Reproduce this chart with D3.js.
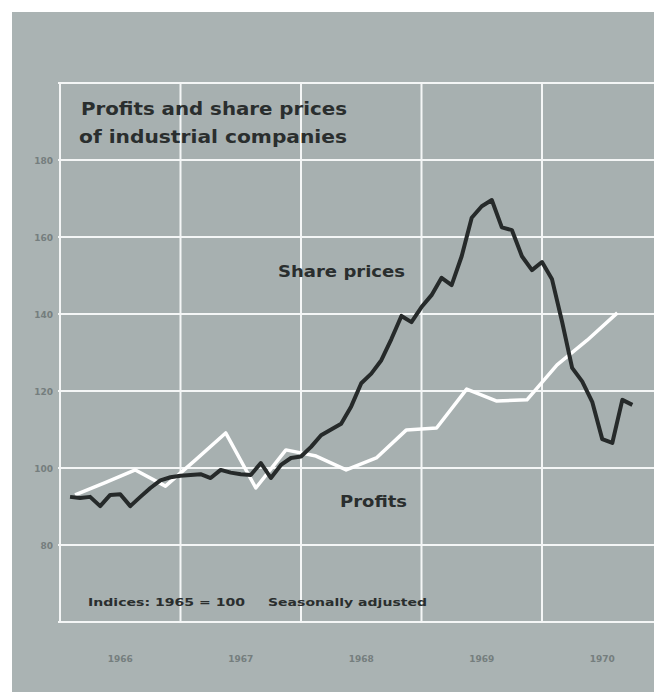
<!DOCTYPE html>
<html>
<head>
<meta charset="utf-8">
<script src="https://cdn.jsdelivr.net/npm/d3@7"></script>
<style>
  html, body { margin: 0; padding: 0; background: #ffffff; }
  svg { display: block; }
</style>
</head>
<body>
<svg id="chart" width="654" height="692"></svg>
<script>
// ---- Data ----
const yearLabels = ["1966", "1967", "1968", "1969", "1970"];
const yTickValues = [80, 100, 120, 140, 160, 180];
const shareStartYear = 1966; // monthly, Jan 1966 .. Sep 1970
const sharePrices = [
  92.5, 92.2, 92.5, 90.1, 93.0, 93.2, 90.1, 92.5, 94.8, 96.8, 97.6, 98.0,
  98.2, 98.4, 97.4, 99.5, 98.8, 98.4, 98.2, 101.3, 97.4, 100.8, 102.6, 103.0,
  105.5, 108.5, 110.0, 111.5, 116.0, 122.0, 124.5, 128.0, 133.5, 139.5, 137.9, 141.8,
  144.9, 149.4, 147.5, 155.0, 165.0, 168.0, 169.6, 162.5, 161.8, 155.0, 151.4, 153.5,
  149.0, 138.0, 126.0, 122.5, 117.2, 107.5, 106.5, 117.7, 116.4
];
const profitsStartYear = 1966; // quarterly, 1966 Q1 .. 1970 Q3
const profits = [
  93.0, 96.2, 99.5, 95.3, 102.1, 109.1, 94.8, 104.7, 103.1, 99.5,
  102.6, 109.9, 110.4, 120.5, 117.4, 117.7, 126.8, 133.2, 140.3
];
const titleLines = ["Profits and share prices", "of industrial companies"];
const footLeft = "Indices: 1965 = 100";
const footRight = "Seasonally adjusted";

// ---- Layout ----
const W = 654, H = 692;
const plot = { left: 60, top: 83, bottom: 622, right: 654 };
const bg = "#aab3b3";
const grid = "#f4f6f6";
const ink = "#2a2e2e";
const faint = "#687171";

const svg = d3.select("#chart");

const x = d3.scaleLinear().domain([1966, 1971]).range([60, 662.5]);
const y = d3.scaleLinear().domain([60, 200]).range([plot.bottom, plot.top]);

// background panel
svg.append("rect").attr("x", 12).attr("y", 12).attr("width", W - 12).attr("height", H - 12).attr("fill", bg);
svg.append("rect").attr("x", plot.left).attr("y", plot.top)
  .attr("width", plot.right - plot.left).attr("height", plot.bottom - plot.top).attr("fill", "#a7b0b0");

// grid: horizontal
const hVals = d3.range(60, 201, 20);
svg.append("g").selectAll("line").data(hVals).join("line")
  .attr("x1", plot.left - 2).attr("x2", plot.right)
  .attr("y1", d => y(d)).attr("y2", d => y(d))
  .attr("stroke", grid).attr("stroke-width", 2);
// grid: vertical
const vVals = d3.range(1966, 1971, 1);
svg.append("g").selectAll("line").data(vVals).join("line")
  .attr("x1", d => x(d)).attr("x2", d => x(d))
  .attr("y1", plot.top).attr("y2", plot.bottom)
  .attr("stroke", grid).attr("stroke-width", 2);

const af = "DejaVu Sans, Liberation Sans, sans-serif";
// y axis labels
svg.append("g").selectAll("text").data(yTickValues).join("text")
  .attr("x", 53).attr("y", d => y(d) + 3.5)
  .attr("text-anchor", "end")
  .attr("font-family", af).attr("font-weight", "bold")
  .attr("font-size", 9).attr("fill", faint).attr("opacity", 0.8)
  .text(d => d);

// x axis labels (centred in each year)
svg.append("g").selectAll("text").data(yearLabels).join("text")
  .attr("x", (d, i) => x(1966 + i + 0.5)).attr("y", 662)
  .attr("text-anchor", "middle")
  .attr("font-family", af).attr("font-weight", "bold")
  .attr("font-size", 9).attr("fill", faint).attr("opacity", 0.8)
  .text(d => d);

// lines
const line = d3.line().x(d => x(d[0])).y(d => y(d[1])).curve(d3.curveLinear);
const profitPts = profits.map((v, i) => [profitsStartYear + (i + 0.5) / 4, v]);
const sharePts = sharePrices.map((v, i) => [shareStartYear + (i + 1) / 12, v]);

svg.append("path").datum(profitPts).attr("d", line)
  .attr("fill", "none").attr("stroke", "#ffffff").attr("stroke-width", 3.5)
  .attr("stroke-linejoin", "round");
svg.append("path").datum(sharePts).attr("d", line)
  .attr("fill", "none").attr("stroke", "#262a2a").attr("stroke-width", 4)
  .attr("stroke-linejoin", "round");

// title
const tf = "DejaVu Sans, Liberation Sans, Arial, sans-serif";
svg.append("text").attr("x", 81).attr("y", 115).attr("font-family", tf).attr("font-weight", "bold")
  .attr("font-size", 17).attr("fill", ink).attr("textLength", 266).attr("lengthAdjust", "spacingAndGlyphs")
  .text(titleLines[0]);
svg.append("text").attr("x", 79).attr("y", 143).attr("font-family", tf).attr("font-weight", "bold")
  .attr("font-size", 17).attr("fill", ink).attr("textLength", 268).attr("lengthAdjust", "spacingAndGlyphs")
  .text(titleLines[1]);

// series labels
svg.append("text").attr("x", 278).attr("y", 277).attr("font-family", tf).attr("font-weight", "bold")
  .attr("font-size", 15).attr("fill", ink).attr("textLength", 127).attr("lengthAdjust", "spacingAndGlyphs")
  .text("Share prices");
svg.append("text").attr("x", 340).attr("y", 507).attr("font-family", tf).attr("font-weight", "bold")
  .attr("font-size", 15).attr("fill", ink).attr("textLength", 67).attr("lengthAdjust", "spacingAndGlyphs")
  .text("Profits");

// footnote
svg.append("text").attr("x", 88).attr("y", 606).attr("font-family", tf).attr("font-weight", "bold")
  .attr("font-size", 11).attr("fill", ink).attr("textLength", 157).attr("lengthAdjust", "spacingAndGlyphs")
  .text(footLeft);
svg.append("text").attr("x", 268).attr("y", 606).attr("font-family", tf).attr("font-weight", "bold")
  .attr("font-size", 11).attr("fill", ink).attr("textLength", 159).attr("lengthAdjust", "spacingAndGlyphs")
  .text(footRight);
</script>
</body>
</html>
